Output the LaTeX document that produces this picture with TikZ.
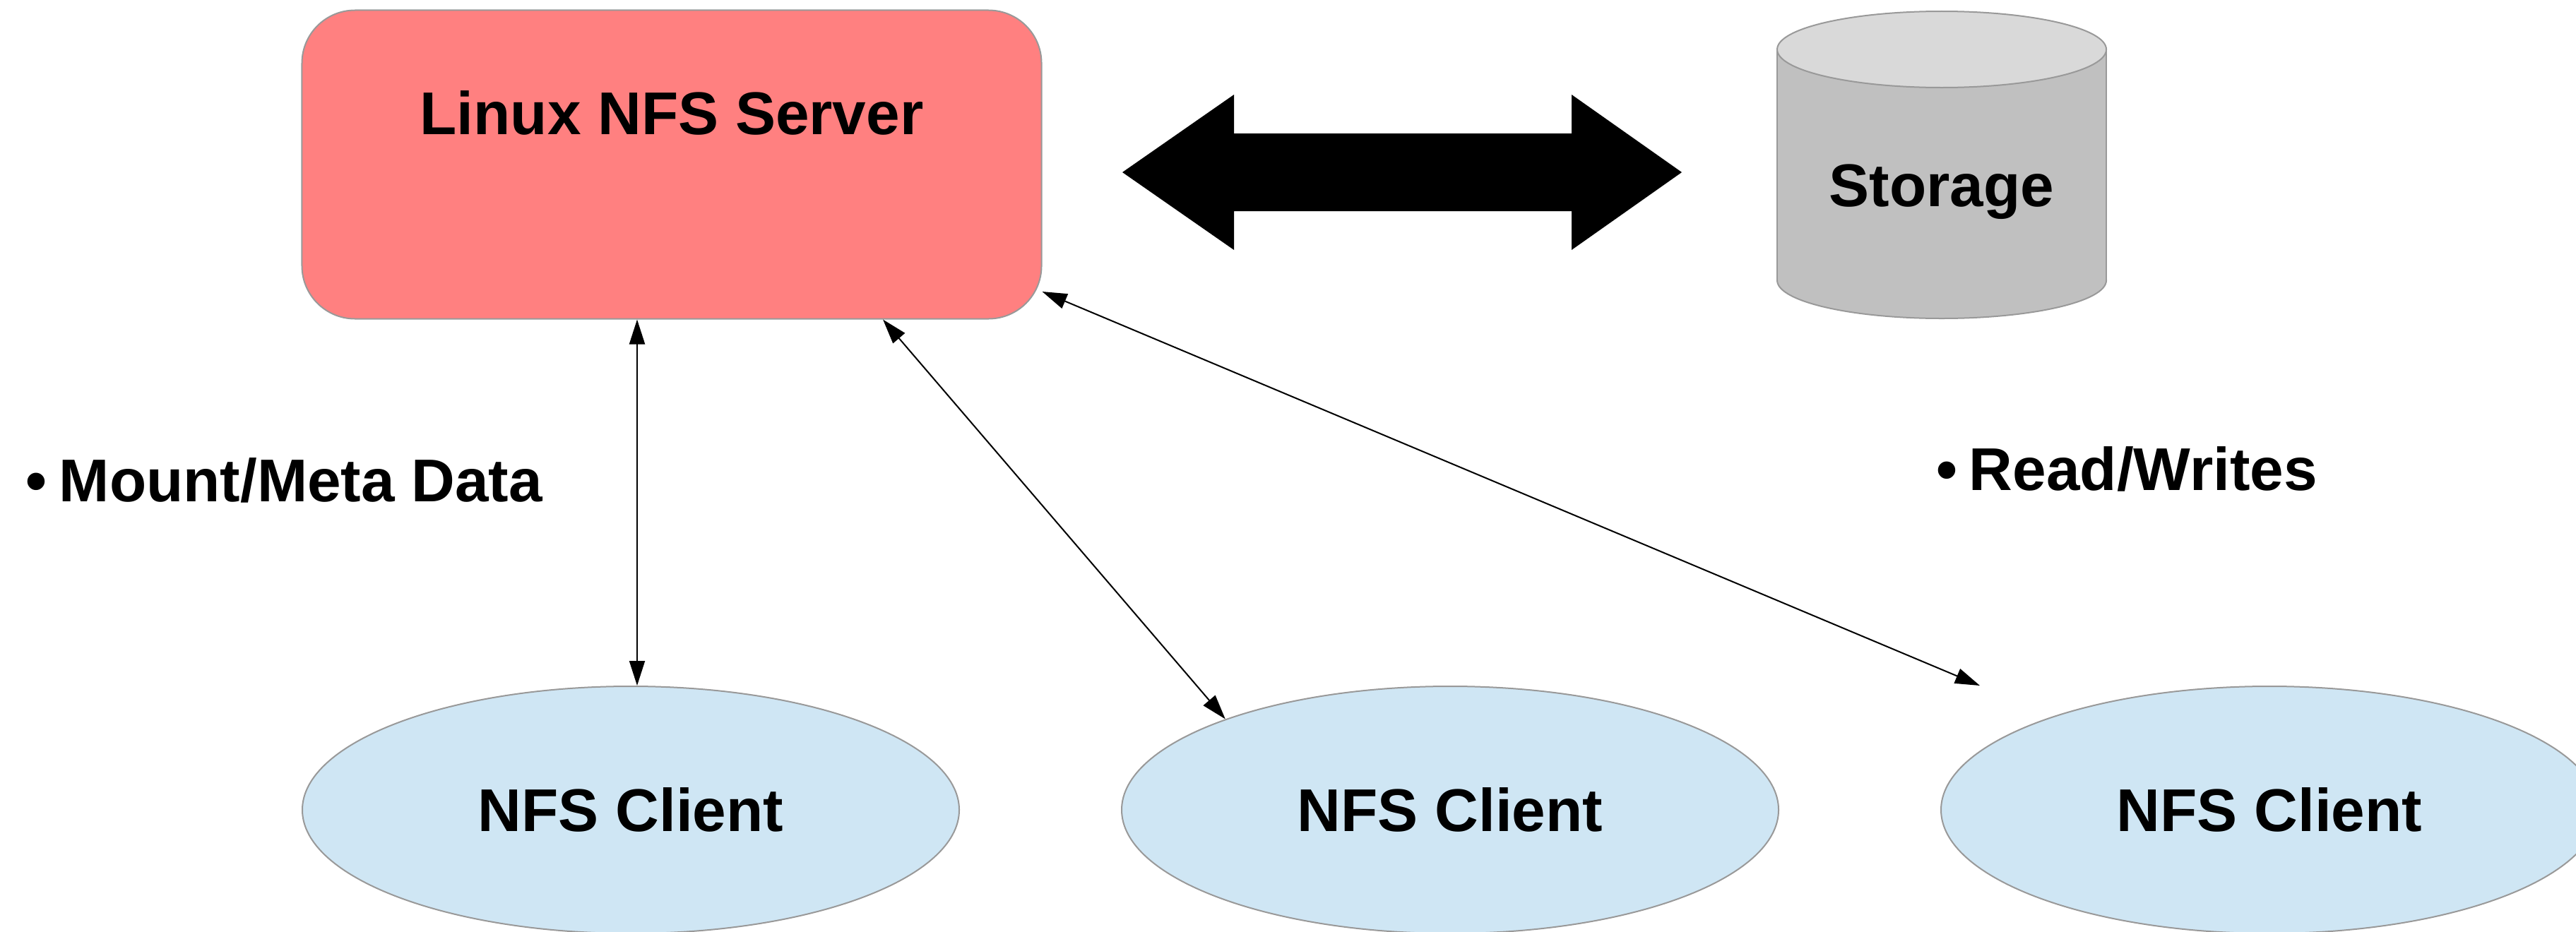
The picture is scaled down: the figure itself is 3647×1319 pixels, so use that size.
\documentclass[tikz,border=0pt]{standalone}
\usepackage{fontspec}
\setmainfont{Liberation Sans}
\usepackage{tikz}
\usetikzlibrary{arrows.meta}
\usetikzlibrary{shapes.geometric}
\definecolor{serverred}{HTML}{FF8080}
\definecolor{clientblue}{HTML}{CFE6F4}
\definecolor{diskbody}{HTML}{C0C0C0}
\definecolor{disktop}{HTML}{D9D9D9}
\definecolor{edgegrey}{HTML}{999999}
\tikzstyle{title}=[font=\fontsize{17.1}{20}\selectfont\bfseries, inner sep=0pt]
\tikzstyle{server}=[rectangle, rounded corners=15pt, fill=serverred, draw=edgegrey, line width=0.4pt, minimum width=209.4pt, minimum height=87.4pt, inner sep=0pt]
\tikzstyle{client}=[ellipse, fill=clientblue, draw=edgegrey, line width=0.4pt, minimum width=186pt, minimum height=70pt, inner sep=0pt, font=\fontsize{17.1}{20}\selectfont\bfseries]
\tikzstyle{link}=[<->, >={Triangle[length=7pt,width=4.4pt]}, line width=0.4pt, black]

\begin{document}
\begin{tikzpicture}[x=0.2pt, y=-0.2pt]
    \useasboundingbox[fill=white] (0,0) rectangle (3647,1319);

    \node[server] (srv) at (951,233) {};
    \node[title, anchor=base] (srvname) at (951,190) {Linux NFS Server};

    \fill[black] (1589,244) -- (1747,134) -- (1747,189) -- (2225,189) -- (2225,134) -- (2381,244)
      -- (2225,354) -- (2225,299) -- (1747,299) -- (1747,354) -- cycle;

    \draw[fill=diskbody, draw=edgegrey, line width=0.4pt] (2749,397) ellipse [x radius=46.6pt, y radius=10.8pt];
    \fill[diskbody] (2516,70) rectangle (2982,397);
    \draw[edgegrey, line width=0.4pt] (2516,70) -- (2516,397) (2982,70) -- (2982,397);
    \draw[fill=disktop, draw=edgegrey, line width=0.4pt] (2749,70) ellipse [x radius=46.6pt, y radius=10.8pt];
    \node[title, anchor=base] (storage) at (2749,292) {Storage};

    \foreach \x [count = \i] in {893,2053,3213}{
      \node[client] (c\i) at (\x,1147) {NFS Client};
      }

    \node[title, anchor=base west] (meta) at (36,710) {•\kern0.2em Mount/Meta Data};
    \node[title, anchor=base west] (rw) at (2740,694) {•\kern0.2em Read/Writes};

    \draw[link] ([xshift=1.8pt]c1.north) -- ([xshift=1.8pt]c1.north |- srv.south);
    \draw[link] ([xshift=59.8pt]srv.south) -- (c2.158);
    \draw[link] ([yshift=-36pt]srv.east) -- ([xshift=-82pt]c3.north);

    \end{tikzpicture}
\end{document}
